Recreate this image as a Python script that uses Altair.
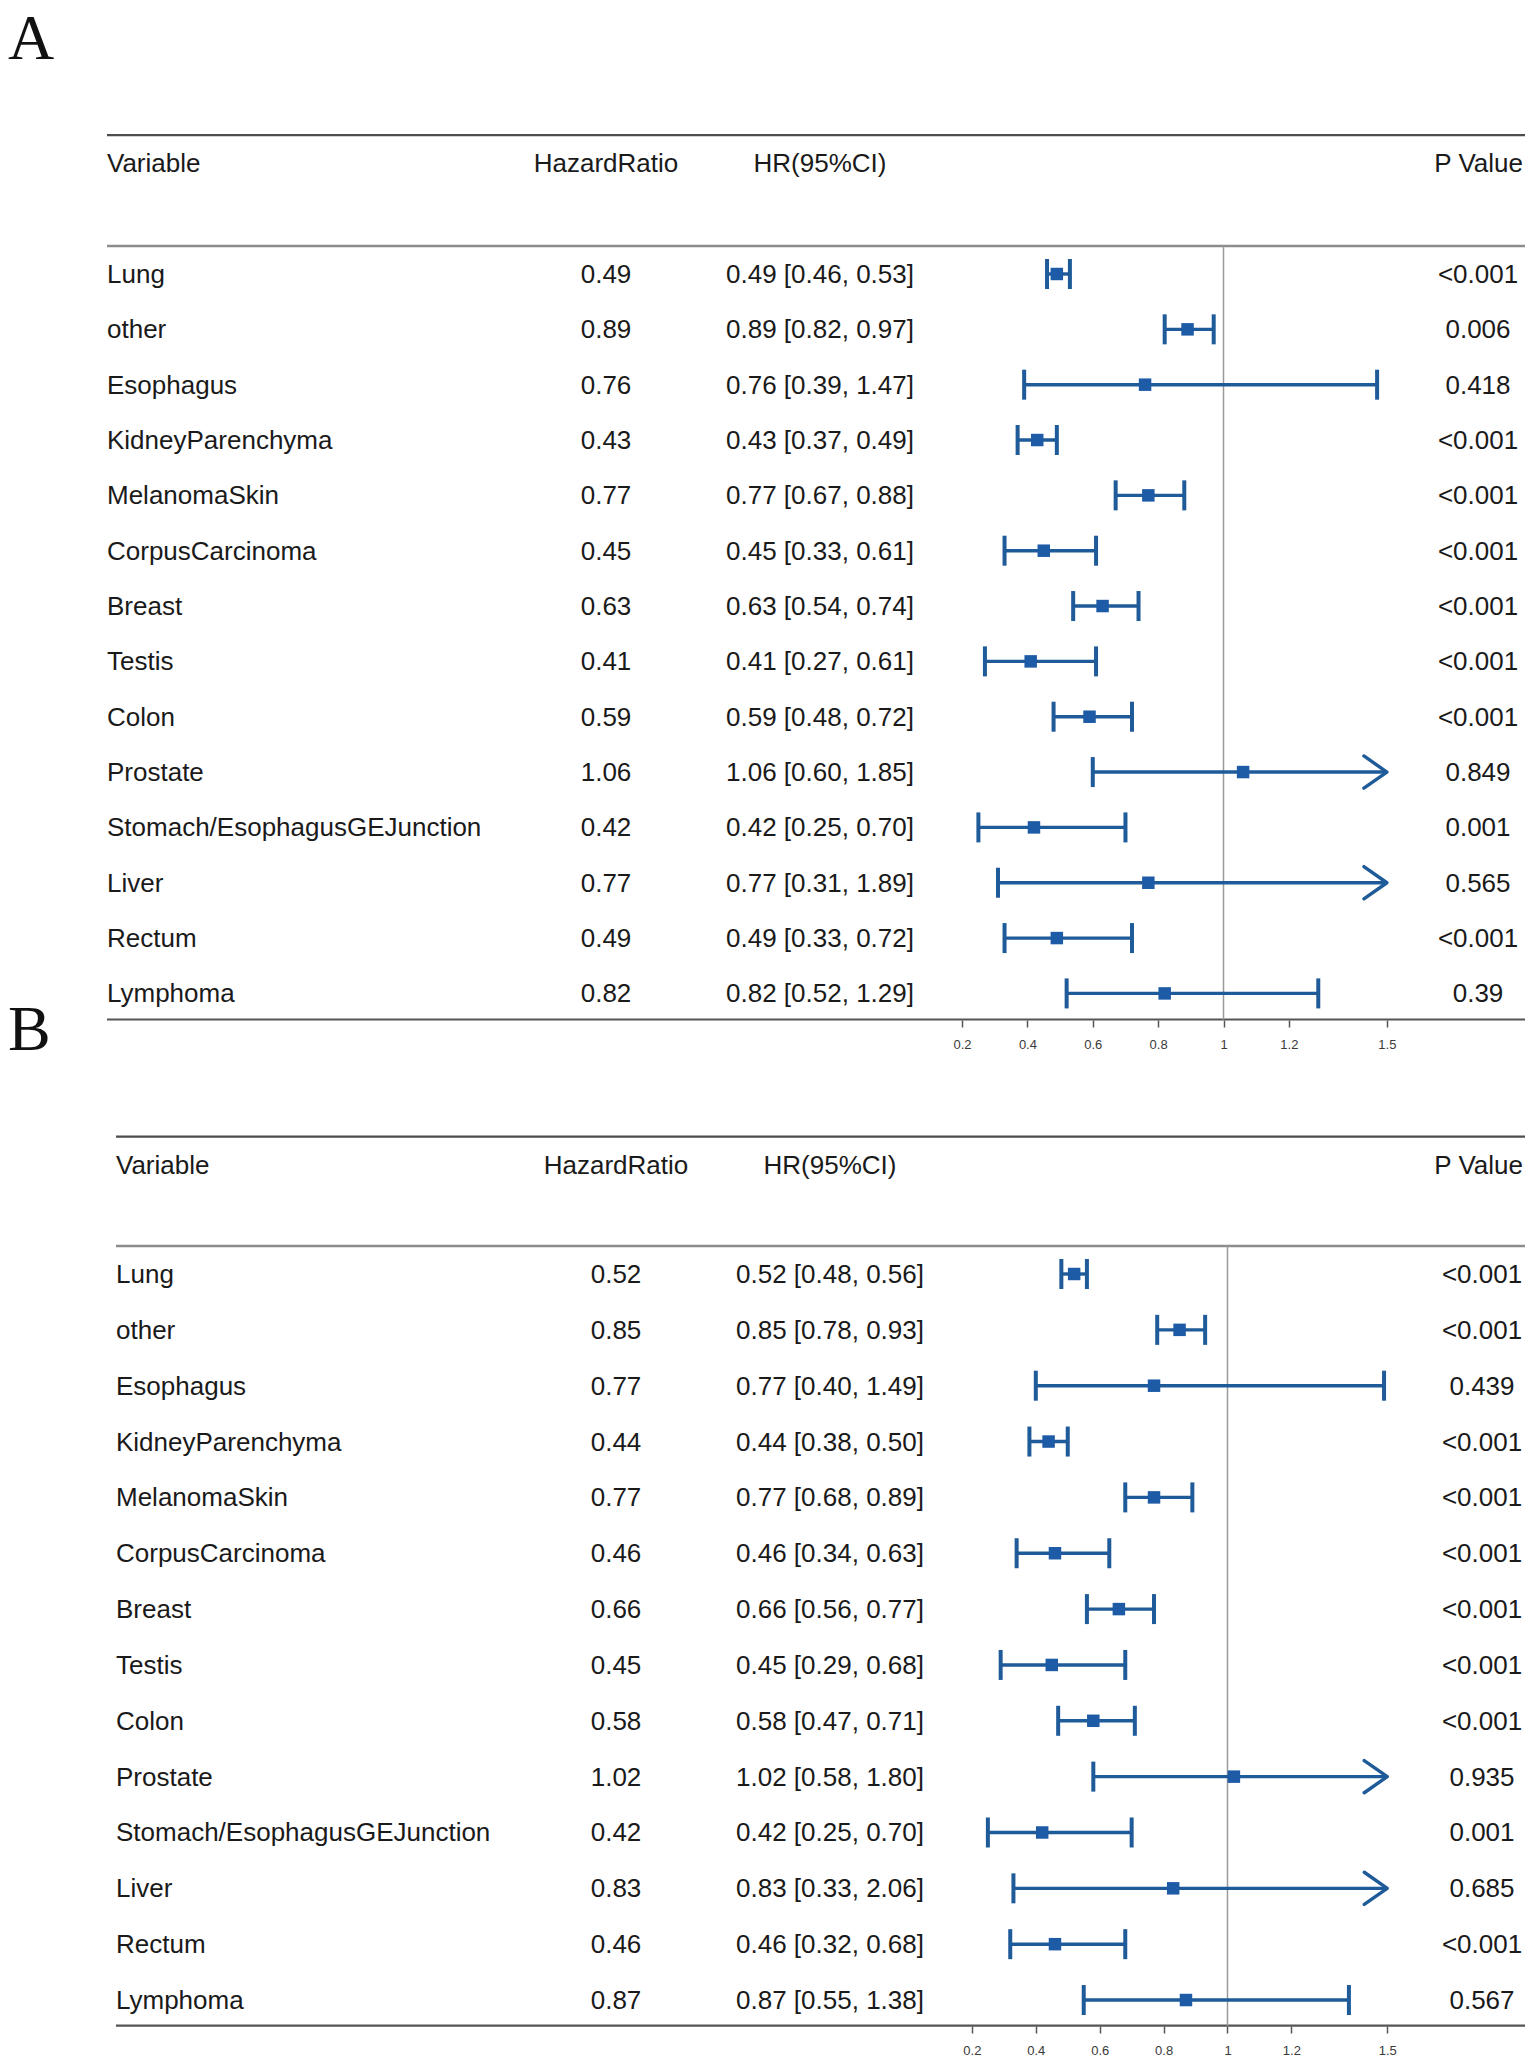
import altair as alt
import pandas as pd

# ---------------- data ----------------
variables = ["Lung", "other", "Esophagus", "KidneyParenchyma", "MelanomaSkin",
             "CorpusCarcinoma", "Breast", "Testis", "Colon", "Prostate",
             "Stomach/EsophagusGEJunction", "Liver", "Rectum", "Lymphoma"]

hr_a = [0.49, 0.89, 0.76, 0.43, 0.77, 0.45, 0.63, 0.41, 0.59, 1.06, 0.42, 0.77, 0.49, 0.82]
lo_a = [0.46, 0.82, 0.39, 0.37, 0.67, 0.33, 0.54, 0.27, 0.48, 0.60, 0.25, 0.31, 0.33, 0.52]
hi_a = [0.53, 0.97, 1.47, 0.49, 0.88, 0.61, 0.74, 0.61, 0.72, 1.85, 0.70, 1.89, 0.72, 1.29]
p_a = ["<0.001", "0.006", "0.418", "<0.001", "<0.001", "<0.001", "<0.001", "<0.001",
       "<0.001", "0.849", "0.001", "0.565", "<0.001", "0.39"]

hr_b = [0.52, 0.85, 0.77, 0.44, 0.77, 0.46, 0.66, 0.45, 0.58, 1.02, 0.42, 0.83, 0.46, 0.87]
lo_b = [0.48, 0.78, 0.40, 0.38, 0.68, 0.34, 0.56, 0.29, 0.47, 0.58, 0.25, 0.33, 0.32, 0.55]
hi_b = [0.56, 0.93, 1.49, 0.50, 0.89, 0.63, 0.77, 0.68, 0.71, 1.80, 0.70, 2.06, 0.68, 1.38]
p_b = ["<0.001", "<0.001", "0.439", "<0.001", "<0.001", "<0.001", "<0.001", "<0.001",
       "<0.001", "0.935", "0.001", "0.685", "<0.001", "0.567"]

header_labels = ["Variable", "HazardRatio", "HR(95%CI)", "P Value"]
tick_values = [0.2, 0.4, 0.6, 0.8, 1, 1.2, 1.5]
panel_labels = ["A", "B"]

# ---------------- style ----------------
FONT = "Liberation Sans"
SERIF = "Liberation Serif"
TXT = "#1a1a1a"
LINE = "#1f5a99"
SQ = "#1d5ba6"
ARROW_LIMIT = 1.5
FS = 26
W = 1420


def table(hr, lo, hi, p):
    df = pd.DataFrame({"idx": list(range(len(variables))), "variable": variables,
                       "hr": hr, "lo": lo, "hi": hi, "p": p})
    df["hr_text"] = [f"{v:.2f}" for v in hr]
    df["ci_text"] = [f"{h:.2f} [{l:.2f}, {u:.2f}]" for h, l, u in zip(hr, lo, hi)]
    df["hi_c"] = df["hi"].clip(upper=ARROW_LIMIT)
    return df


def panel(df, label, x_dom, y_dom, h, cols, rules, header_row, label_y, label_baseline):
    xs = alt.Scale(domain=x_dom, nice=False, zero=False)
    ys = alt.Scale(domain=y_dom, reverse=True, nice=False, zero=False)
    xaxis = alt.Axis(values=tick_values, format="~g", domain=False, grid=False,
                     ticks=True, tickSize=7, tickWidth=1.5, tickColor="#555555",
                     labelFontSize=13, labelColor="#3a3a3a", labelFont=FONT,
                     labelPadding=11, title=None)

    def X(f):
        return alt.X(f, type="quantitative", scale=xs, axis=xaxis)

    def Y(f="idx"):
        return alt.Y(f, type="quantitative", scale=ys, axis=None)

    base = alt.Chart(df)
    layers = []

    # horizontal table rules
    rule_styles = [("#4d4d4d", 2.2), ("#8c8c8c", 2.4), ("#555555", 2.2)]
    for yv, (col, sw) in zip([rules["top"], rules["mid"], rules["bot"]], rule_styles):
        layers.append(
            alt.Chart(pd.DataFrame({"y": [yv]})).mark_rule(color=col, strokeWidth=sw).encode(
                y=Y("y"), x=alt.value(cols["rule_left"]), x2=alt.value(W))
        )

    # reference line at HR = 1
    layers.append(
        alt.Chart(pd.DataFrame({"x": [1.0], "y": [rules["mid"]], "y2": [rules["bot"]]}))
        .mark_rule(color="#9a9a9a", strokeWidth=1.5)
        .encode(x=X("x"), y=Y("y"), y2="y2")
    )

    # CI lines
    layers.append(base.mark_rule(strokeWidth=3.4, color=LINE).encode(
        x=X("lo"), x2="hi_c", y=Y()))
    # lower caps
    layers.append(base.mark_point(shape="M0,-1L0,1", size=900, filled=False,
                                  strokeWidth=4, color=LINE, opacity=1).encode(
        x=X("lo"), y=Y()))
    # upper caps
    layers.append(base.transform_filter(f"datum.hi <= {ARROW_LIMIT}")
                  .mark_point(shape="M0,-1L0,1", size=900, filled=False,
                              strokeWidth=4, color=LINE, opacity=1)
                  .encode(x=X("hi"), y=Y()))
    # arrows for truncated CIs
    layers.append(base.transform_filter(f"datum.hi > {ARROW_LIMIT}")
                  .mark_point(shape="M-1,-0.7L0,0L-1,0.7", size=2116, filled=False,
                              strokeWidth=3.4, strokeJoin="round", strokeCap="round",
                              color=LINE, opacity=1)
                  .encode(x=X("hi_c"), y=Y()))
    # squares
    layers.append(base.mark_square(size=156, color=SQ, opacity=1).encode(
        x=X("hr"), y=Y()))

    # text columns
    def txt(field, xpos, align):
        return base.mark_text(align=align, baseline="alphabetic", dy=9, font=FONT,
                              fontSize=FS, color=TXT).encode(
            x=alt.value(xpos), y=Y(), text=field)

    layers.append(txt("variable", cols["var"], "left"))
    layers.append(txt("hr_text", cols["hr"], "center"))
    layers.append(txt("ci_text", cols["ci"], "center"))
    layers.append(txt("p", cols["p"], "center"))

    # headers
    hdr_pos = [(cols["var"], "left"), (cols["hr"], "center"), (cols["ci"], "center"),
               (cols["p_hdr"], "right")]
    for lab, (xp, al) in zip(header_labels, hdr_pos):
        layers.append(
            alt.Chart(pd.DataFrame({"label": [lab], "idx": [header_row]}))
            .mark_text(align=al, baseline="alphabetic", dy=9, font=FONT, fontSize=FS, color=TXT)
            .encode(x=alt.value(xp), y=Y(), text="label")
        )

    # panel letter
    layers.append(
        alt.Chart(pd.DataFrame({"t": [label]}))
        .mark_text(font=SERIF, fontSize=64, align="left", baseline=label_baseline, color="#111111")
        .encode(x=alt.value(-97), y=alt.value(label_y), text="t")
    )

    return alt.layer(*layers).properties(width=W, height=h)


df_a = table(hr_a, lo_a, hi_a, p_a)
df_b = table(hr_b, lo_b, hi_b, p_b)

# panel A: HR=1 at x=1223.5 px, 326.8 px per unit
A0, AS = 1223.5 - 326.8, 326.8
# panel B: HR=1 at x=1227.5 px, 319.5 px per unit
B0, BS = 1227.5 - 319.5, 319.5

chart_a = panel(
    df_a, panel_labels[0],
    x_dom=[(105 - A0) / AS, (1525 - A0) / AS],
    y_dom=[-4.8066, 13.4803], h=1012,
    cols={"rule_left": 2, "var": 2, "hr": 501, "ci": 715, "p": 1373, "p_hdr": 1418},
    rules={"top": -2.51, "mid": -0.506, "bot": 13.471},
    header_row=-2.0,
    label_y=0, label_baseline="top",
)

chart_b = panel(
    df_b, panel_labels[1],
    x_dom=[(105 - B0) / BS, (1525 - B0) / BS],
    y_dom=[-4.548, 13.465], h=1006,
    cols={"rule_left": 11, "var": 11, "hr": 511, "ci": 725, "p": 1377, "p_hdr": 1418},
    rules={"top": -2.46, "mid": -0.50, "bot": 13.46},
    header_row=-1.96,
    label_y=30, label_baseline="alphabetic",
)

chart = alt.vconcat(chart_a, chart_b, spacing=0, bounds="flush").properties(
    padding=0, background="white"
).configure_view(stroke=None)

chart.save("out.html", embed_options={"renderer": "svg", "actions": False})
